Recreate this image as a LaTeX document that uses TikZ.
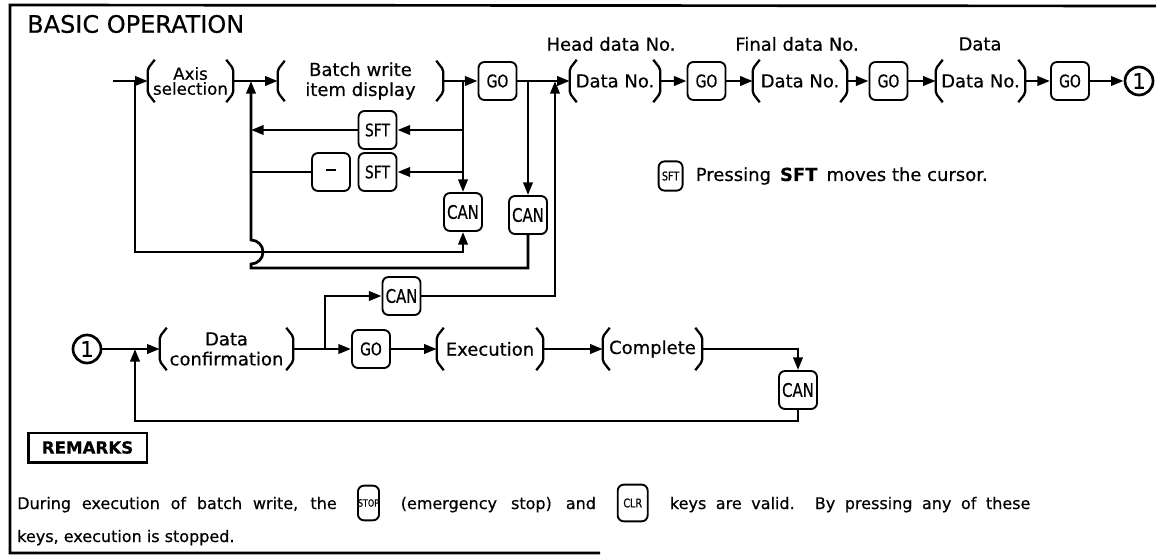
\documentclass[tikz,border=0pt]{standalone}
\usepackage{fontspec}
\setmainfont{DejaVu Sans}[FakeBold=0.5]
\newfontfamily\keyfont{DejaVu Sans}[FakeStretch=0.8,FakeBold=0.5]
\usetikzlibrary{arrows.meta,calc}
\newcommand\bracebox[7][]{%
  \node[brc,minimum width={#5*0.75pt},minimum height={#6*0.75pt},#1] (#2) at (#3,#4) {#7};
  \draw[brline] ($(#2.north west)+(7,0)$) -- ($(#2.north west)+(0,9)$) -- ($(#2.south west)+(0,-9)$) -- ($(#2.south west)+(7,0)$);
  \draw[brline] ($(#2.north east)+(-7,0)$) -- ($(#2.north east)+(0,9)$) -- ($(#2.south east)+(0,-9)$) -- ($(#2.south east)+(-7,0)$);
}
\begin{document}
\begin{tikzpicture}[x=0.75pt,y=-0.75pt,
  wire/.style={line width=2pt},
  conn/.style={wire,-{Triangle[length=9.5pt,width=7pt]}},
  keybox/.style={draw,line width=1.4pt,rounded corners=4.5pt,inner sep=0pt,minimum width=28.5pt,minimum height=28.5pt,font=\keyfont\fontsize{13}{13}\selectfont},
  canfont/.style={font=\keyfont\fontsize{14}{14}\selectfont},
  brc/.style={inner sep=0pt,align=center,font=\fontsize{13.5}{15}\selectfont},
  brline/.style={line width=1.7pt,rounded corners=1.5pt},
  lbl/.style={inner sep=0pt,font=\fontsize{13.5}{15}\selectfont},
  circ/.style={draw,circle,line width=2pt,minimum size=21pt,inner sep=0pt,font=\fontsize{16}{16}\selectfont},
  txt/.style={inner sep=0pt,font=\fontsize{12}{14}\selectfont},
]
\useasboundingbox (0,0) rectangle (1156,556);
% frame
\draw[line width=2pt] (1156,6) -- (10,5) -- (10,553) -- (600,553);
\node[anchor=west,inner sep=0pt,font=\fontsize{18}{20}\selectfont] (title) at (27,24) {BASIC OPERATION};

% ---- row 1
\bracebox[font=\fontsize{12.5}{11.25}\selectfont]{axis}{190.5}{81}{85}{42}{Axis\\selection}
\bracebox{batch}{360.5}{81}{165}{40}{Batch write\\item display}
\node[keybox] (go1) at (497.5,81) {GO};
\bracebox{dn1}{615}{81}{90}{42}{Data No.}
\node[keybox] (go2) at (706.5,81) {GO};
\bracebox{dn2}{800}{81}{94}{42}{Data No.}
\node[keybox] (go3) at (888.5,81) {GO};
\bracebox{dn3}{980.5}{81}{89}{42}{Data No.}
\node[keybox] (go4) at (1070,81) {GO};
\node[circ] (c1) at (1139,81) {1};

\node[lbl] (hd) at (611,44) {Head data No.};
\node[lbl] (fd) at (797,44) {Final data No.};
\node[lbl] (dd) at (980,44) {Data};

% ---- middle keys
\node[keybox] (sft1) at (377.5,130) {SFT};
\node[keybox] (minus) at (331,172) {\rule[3.5pt]{7pt}{1.3pt}};
\node[keybox] (sft2) at (377.5,172) {SFT};
\node[keybox,canfont] (can1) at (463,212) {CAN};
\node[keybox,canfont] (can2) at (528,215) {CAN};

% legend
\node[lbl,anchor=east] (lgt) at (988,176) {Pressing\enspace\textbf{SFT}\enspace moves the cursor.};
\node[keybox,minimum width=18pt,minimum height=22pt,font=\keyfont\fontsize{9}{9}\selectfont,anchor=east] (lgs) at ($(lgt.west)+(-12,0)$) {SFT};

% coordinates
\coordinate (in) at (113,81);
\coordinate (j1) at (135,81);
\coordinate (j2) at (251,81);
\coordinate (v1) at (463,81);
\coordinate (v2) at (528,81);
\coordinate (v3) at (555,81);
\coordinate (lb) at (0,252);
\coordinate (rb) at (0,268);

\draw[conn] (in) -- (axis.west);
\draw[conn] (axis.east) -- (batch.west);
\draw[conn] (batch.east) -- (go1.west);
\draw[conn] (go1.east) -- (dn1.west);
\draw[conn] (dn1.east) -- (go2.west);
\draw[conn] (go2.east) -- (dn2.west);
\draw[conn] (dn2.east) -- (go3.west);
\draw[conn] (go3.east) -- (dn3.west);
\draw[conn] (dn3.east) -- (go4.west);
\draw[conn] (go4.east) -- (c1.west);

\draw[conn] (j1) -- (j1 |- lb) -- (v1 |- lb) -- (can1.south);
\draw[conn] (can2.south) -- (v2 |- rb) -- (j2 |- rb) -- ($(j2 |- lb)+(0,12)$) arc[start angle=90,end angle=-90,radius=12] -- (j2);
\draw[conn] (v1) -- (can1.north);
\draw[conn] (v2) -- (can2.north);
\draw[conn] (v1 |- sft1) -- (sft1.east);
\draw[conn] (sft1.west) -- (j2 |- sft1);
\draw[conn] (v1 |- sft2) -- (sft2.east);
\draw[wire] (minus.west) -- (j2 |- minus);

% ---- lower row
\node[circ] (c2) at (87,349) {1};
\bracebox{conf}{226.5}{349}{133}{42}{Data\\confirmation}
\node[keybox] (go5) at (371,349) {GO};
\node[keybox,canfont] (can3) at (401.5,296) {CAN};
\bracebox{exec}{490}{349}{106}{42}{Execution}
\bracebox{comp}{652.5}{349}{99}{42}{Complete}
\node[keybox,canfont] (can4) at (798,390) {CAN};
\coordinate (j5) at (325,349);
\coordinate (j6) at (135,349);
\coordinate (bl) at (0,421);

\draw[conn] (can3.east) -- (can3.east -| v3) -- (v3);
\draw[conn] (c2.east) -- (conf.west);
\draw[conn] (conf.east) -- (go5.west);
\draw[conn] (j5) |- (can3.west);
\draw[conn] (go5.east) -- (exec.west);
\draw[conn] (exec.east) -- (comp.west);
\draw[conn] (comp.east) -| (can4.north);
\draw[conn] (can4.south) |- (j6 |- bl) -- (j6);

% ---- remarks
\node[draw,line width=2pt,inner sep=0pt,minimum width=89pt,minimum height=22pt,font=\bfseries\fontsize{12.5}{13}\selectfont] (rem) at (87.5,447.5) {REMARKS};
\node[txt,anchor=base west] (t1) at (17,509) {\makebox[239.6pt][s]{During execution of batch write, the}};
\node[keybox,minimum width=15pt,minimum height=26pt,font=\keyfont\fontsize{7.5}{7.5}\selectfont] (stop) at (368.5,503) {STOP};
\node[txt,anchor=base west] (t2) at (400.5,509) {\makebox[146.4pt][s]{(emergency stop) and}};
\node[keybox,minimum width=22.5pt,minimum height=27.5pt,font=\keyfont\fontsize{9}{9}\selectfont] (clr) at (632.7,503) {CLR};
\node[txt,anchor=base west] (t3) at (669.7,509) {\makebox[270.3pt][s]{keys are valid. By pressing any of these}};
\node[txt,anchor=base west] (t4) at (17,542) {keys, execution is stopped.};
\end{tikzpicture}
\end{document}
